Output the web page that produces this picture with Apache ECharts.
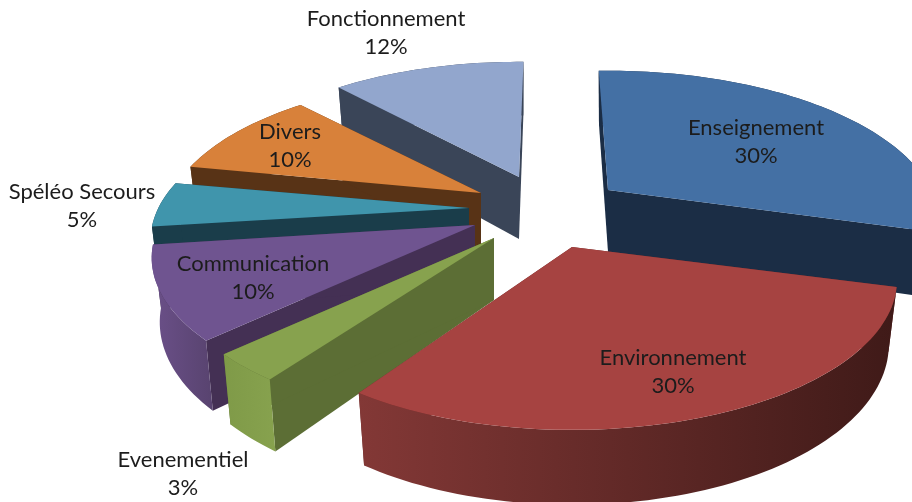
<!DOCTYPE html>
<html><head><meta charset="utf-8">
<style>html,body{margin:0;padding:0;background:#fff;overflow:hidden}#c{width:912px;height:502px;filter:blur(0.6px)}</style>
<script src="https://cdn.jsdelivr.net/npm/echarts@6/dist/echarts.min.js"></script>
</head><body><div id="c"></div>
<script>
// ---- data ----
var categories = ['Enseignement','Environnement','Evenementiel','Communication','Spéléo Secours','Divers','Fonctionnement'];
var shares = [30,30,3,10,5,10,12];

// ---- layout / style (separate from data) ----
var centre = [537,210];
var explode = [[71,-20],[35,37],[-43,28],[-62,15],[-68,-2],[-56,-17],[-18,-33]];
var twistDeg = [-1.5,-2.2,0,0,0.3,1,1.5];
var radiusScale = [1.02,1,1,0.995,0.98,0.975,0.985];
var labelCentres = [[756,141],[673,371],[183,473],[253,277],[82,205],[290,145],[386,32]];
var topColors = ['#4470a4','#a64341','#87a24e','#6f5490','#4095ac','#d8813a','#92a6cd'];
var wallColors = ['#1b2d45','#6a2a28','#5c6e35','#443054','#1a3d4a','#583316','#3a4558'];
var rimStops = [['#1b2d45','#1b2d45'],['#833836','#3f1a18'],['#7f9a48','#87a24e'],['#6b5089','#58436f'],['#1a3d4a','#1a3d4a'],['#583316','#583316'],['#3a4558','#3a4558']];
var radius = 317, flatten = 0.45, persp = 0.22, depth = 62, baseShrink = 0.975, startDeg = -0.5;

var total = shares.reduce(function(a,b){return a+b;},0);

function offset(deg, rs){
  var t = deg*Math.PI/180, u = Math.sin(t), v = -Math.cos(t), s = 1/(1-persp*v);
  return {dx:radius*rs*u*s, dy:radius*rs*flatten*v*s, s:s};
}
function topPt(a,o){ return [a[0]+o.dx, a[1]+o.dy]; }
function basePt(a,o){ return [a[0]+o.dx*baseShrink, a[1]+o.dy*baseShrink+depth*o.s]; }

function renderSlice(params, api){
  var i = params.dataIndex, before = 0;
  for (var k=0;k<i;k++) before += shares[k];
  var value = api.value(0);
  var a0 = startDeg+twistDeg[i]+before/total*360, a1 = a0+value/total*360, mid=(a0+a1)/2;
  var apex = [centre[0]+explode[i][0], centre[1]+explode[i][1]];
  var apexBase = [apex[0], apex[1]+depth];
  var arcTop=[], arcBase=[];
  var n = Math.max(4, Math.ceil((a1-a0)/1.5));
  for (var j=0;j<=n;j++){
    var o = offset(a0+(a1-a0)*j/n, radiusScale[i]);
    arcTop.push(topPt(apex,o)); arcBase.push(basePt(apex,o));
  }
  var z2 = Math.round(-Math.cos(mid*Math.PI/180)*100)+200;
  var children = [];
  function poly(points, fill){
    children.push({type:'polygon', z2:z2, shape:{points:points}, style:{fill:fill, stroke:null}});
  }
  poly([apex, arcTop[0], arcBase[0], apexBase], wallColors[i]);
  poly([apex, arcTop[n], arcBase[n], apexBase], wallColors[i]);
  poly(arcTop.concat(arcBase.slice().reverse()),
    new echarts.graphic.LinearGradient(0,0,1,0,[{offset:0,color:rimStops[i][0]},{offset:1,color:rimStops[i][1]}]));
  poly([apex].concat(arcTop), topColors[i]);
  children.push({type:'text', z2:1000, style:{
    text: categories[i]+'\n'+value+'%', x:labelCentres[i][0], y:labelCentres[i][1]+1,
    align:'center', verticalAlign:'middle', lineHeight:28,
    font:'22px Lato, sans-serif', fill:'#1c1c1c'
  }});
  return {type:'group', children:children};
}

var chart = echarts.init(document.getElementById('c'), null, {renderer:'canvas'});
chart.setOption({
  animation:false,
  backgroundColor:'#fff',
  series:[{
    type:'custom',
    coordinateSystem:'none',
    renderItem:renderSlice,
    clip:false,
    data:shares.map(function(v,i){return {name:categories[i], value:[v]};})
  }]
});
</script></body></html>
